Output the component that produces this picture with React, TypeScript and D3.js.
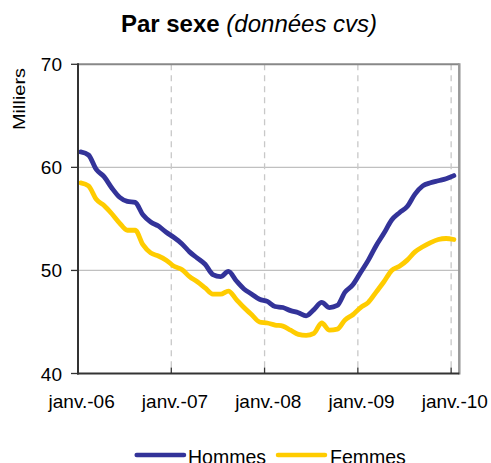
import * as d3 from "d3";

// Monthly values, janv. 2006 -> janv. 2010 (milliers)
const hommes = [
  61.5, 61.2, 59.8, 59.1, 58.0, 57.1, 56.7, 56.6, 55.4, 54.7, 54.3, 53.7,
  53.2, 52.6, 51.8, 51.2, 50.6, 49.6, 49.4, 49.9, 49.0, 48.2, 47.7, 47.2,
  47.0, 46.5, 46.4, 46.1, 45.9, 45.6, 46.2, 46.9, 46.4, 46.6, 47.9, 48.6,
  49.8, 51.0, 52.4, 53.6, 54.9, 55.6, 56.2, 57.4, 58.2, 58.5, 58.7, 58.9,
  59.2,
];
const femmes = [
  58.5, 58.2, 56.9, 56.3, 55.5, 54.6, 53.9, 53.9, 52.5, 51.7, 51.4, 51.0,
  50.4, 50.1, 49.4, 48.9, 48.3, 47.7, 47.7, 48.0, 47.2, 46.4, 45.7, 45.0,
  44.9, 44.7, 44.6, 44.2, 43.8, 43.7, 43.9, 44.9, 44.2, 44.3, 45.2, 45.7,
  46.4, 46.9, 47.9, 48.9, 50.0, 50.4, 51.0, 51.8, 52.3, 52.7, 53.0, 53.1,
  53.0,
];
const yearLabels = ["janv.-06", "janv.-07", "janv.-08", "janv.-09", "janv.-10"];
const yTicks = [40, 50, 60, 70];

const W = 491;
const H = 463;
const left = 78;
const right = 459.3;
const top = 64.3;
const bottom = 373.5;
const font = "'Liberation Sans', Arial, sans-serif";

export default function App() {
  // month position: 0 = start of janv.-06
  const x = d3.scaleLinear().domain([0, 49.05]).range([left, right]);
  const y = d3.scaleLinear().domain([40, 70]).range([bottom, top]);
  const pos = (i: number) => x(i + 0.35);

  const line = d3
    .line<number>()
    .x((_, i) => pos(i))
    .y((d) => y(d))
    .curve(d3.curveMonotoneX);

  const series = [
    { name: "Hommes", values: hommes, color: "#333399" },
    { name: "Femmes", values: femmes, color: "#FFCC00" },
  ];

  return (
    <svg
      width={W}
      height={H}
      style={{ position: "absolute", left: 0, top: 0, background: "#fff" }}
      fontFamily={font}
    >
      <text x={249} y={32} textAnchor="middle" fontSize={24}>
        <tspan fontWeight="bold">Par sexe</tspan>
        <tspan fontStyle="italic"> (données cvs)</tspan>
      </text>

      <text
        transform="translate(25,99) rotate(-90)"
        textAnchor="middle"
        fontSize={17}
        textLength={62}
        lengthAdjust="spacingAndGlyphs"
      >
        Milliers
      </text>

      {/* horizontal gridlines */}
      {yTicks
        .filter((t) => t > 40 && t < 70)
        .map((t) => (
          <line key={t} x1={left} x2={right} y1={y(t)} y2={y(t)} stroke="#c0c0c0" strokeWidth={1.3} />
        ))}

      {/* vertical dashed gridlines */}
      {yearLabels.slice(1).map((_, k) => (
        <line
          key={k}
          x1={x((k + 1) * 12)}
          x2={x((k + 1) * 12)}
          y1={top}
          y2={bottom}
          stroke="#c8c8c8"
          strokeWidth={1.3}
          strokeDasharray="6,5"
        />
      ))}

      {/* frame */}
      <line x1={left} x2={right} y1={top} y2={top} stroke="#888" strokeWidth={2} />
      <line x1={right} x2={right} y1={top - 1} y2={bottom + 1} stroke="#999" strokeWidth={2.5} />

      {series.map((s) => (
        <path
          key={s.name}
          d={line(s.values) ?? ""}
          fill="none"
          stroke={s.color}
          strokeWidth={4.8}
          strokeLinejoin="round"
          strokeLinecap="round"
        />
      ))}

      <line x1={left} x2={left} y1={top - 1} y2={bottom + 1} stroke="#333" strokeWidth={2} />
      <line x1={left - 1} x2={right} y1={bottom} y2={bottom} stroke="#333" strokeWidth={2} />

      {/* y ticks */}
      {yTicks.map((t) => (
        <g key={t}>
          <line x1={left - 7} x2={left} y1={y(t)} y2={y(t)} stroke="#333" strokeWidth={1.3} />
          <text x={62} y={y(t) + 7} textAnchor="end" fontSize={19}>
            {t}
          </text>
        </g>
      ))}

      {/* x ticks + labels */}
      {yearLabels.map((l, k) => (
        <g key={l}>
          <line
            x1={x(k * 12)}
            x2={x(k * 12)}
            y1={bottom - 6}
            y2={bottom}
            stroke="#333"
            strokeWidth={1.3}
          />
          <text x={x(k * 12 + 0.47)} y={408} textAnchor="middle" fontSize={19}>
            {l}
          </text>
        </g>
      ))}

      {/* legend (cut by the bottom edge, as in the reference) */}
      <line x1={136.7} x2={184} y1={455} y2={455} stroke="#333399" strokeWidth={4.5} strokeLinecap="round" />
      <text x={188} y={464} fontSize={19.5}>
        Hommes
      </text>
      <line x1={278} x2={325} y1={455} y2={455} stroke="#FFCC00" strokeWidth={4.5} strokeLinecap="round" />
      <text x={330} y={464} fontSize={19.5}>
        Femmes
      </text>
    </svg>
  );
}
